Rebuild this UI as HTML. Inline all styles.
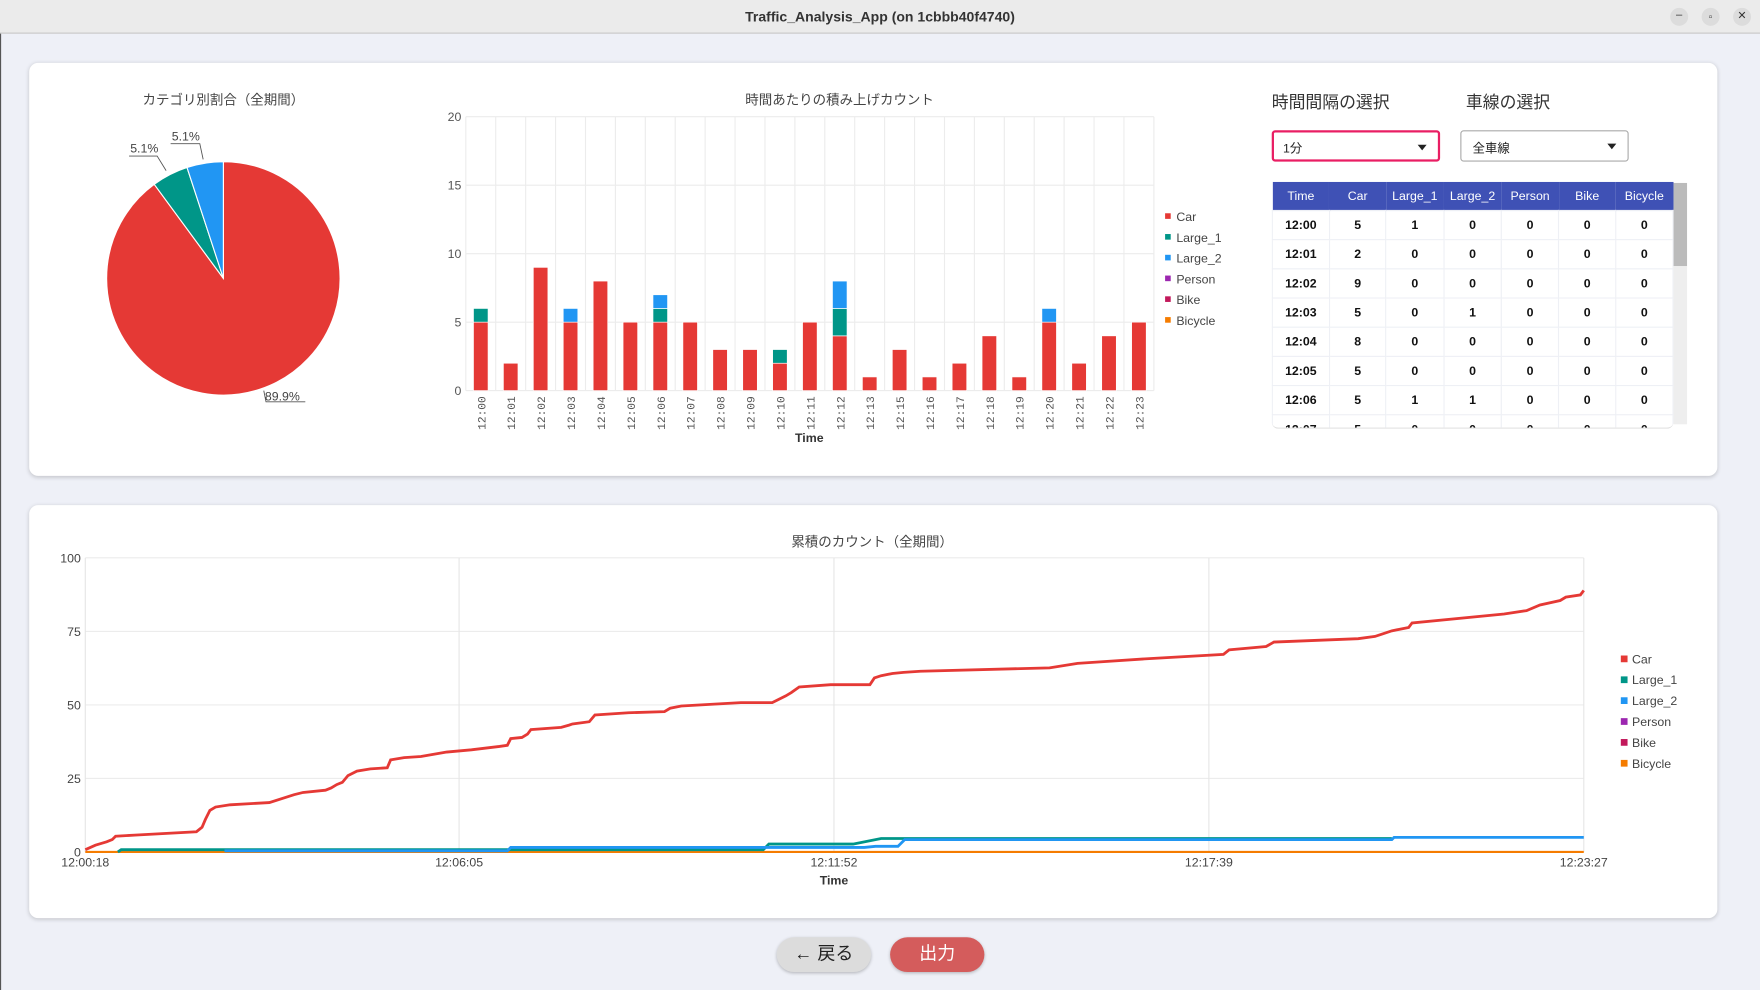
<!DOCTYPE html>
<html><head><meta charset="utf-8"><style>
html,body{margin:0;padding:0;width:1760px;height:990px;overflow:hidden;background:#eef0f7;}
#s{position:absolute;left:0;top:0;width:1568px;height:882px;transform:scale(1.122449);transform-origin:0 0;font-family:"Liberation Sans","Noto Sans CJK JP",sans-serif;}
.abs{position:absolute;}
.card{position:absolute;background:#fff;border-radius:8px;box-shadow:0 1px 4px rgba(0,0,0,.18);}
.title{position:absolute;font-size:12px;color:#444;transform:translateX(-50%);white-space:nowrap;}
table{border-collapse:collapse;font-size:11px;}
td,th{width:51px;height:25px;text-align:center;padding:0;}
th{background:#3f51b5;color:#fff;font-weight:normal;}
td{border:1px solid #eef0f5;color:#111;font-weight:600;}
.dd{position:absolute;height:28px;box-sizing:border-box;border-radius:3px;font-size:11px;color:#222;}
.dd span{position:absolute;left:10px;top:7px;}
.dd i{position:absolute;right:10px;top:11px;width:0;height:0;border-left:4px solid transparent;border-right:4px solid transparent;border-top:5px solid #222;}
.btn{position:absolute;border-radius:16px;text-align:center;box-shadow:0 1px 3px rgba(0,0,0,.25);font-size:16px;line-height:31px;}
</style></head><body><div id="s">
<div class="abs" style="left:0;top:0;width:1568px;height:29px;background:#ebebeb;border-bottom:1px solid #c8c8c8;"></div>
<div class="abs" style="left:0;top:8px;width:1568px;text-align:center;font-size:12.5px;font-weight:bold;color:#333;">Traffic_Analysis_App (on 1cbbb40f4740)</div>
<div class="abs" style="left:1488px;top:7px;width:16px;height:16px;border-radius:8px;background:#dcdcdc;font-size:10px;text-align:center;line-height:14px;color:#333">–</div>
<div class="abs" style="left:1516px;top:7px;width:16px;height:16px;border-radius:8px;background:#dcdcdc;font-size:9px;text-align:center;line-height:16px;color:#333">▫</div>
<div class="abs" style="left:1544px;top:7px;width:16px;height:16px;border-radius:8px;background:#dcdcdc;font-size:10px;text-align:center;line-height:16px;color:#333">✕</div>
<div class="abs" style="left:0;top:30px;width:1px;height:852px;background:#555;"></div>

<div class="card" style="left:26px;top:56px;width:1504px;height:368px;"></div>
<div class="card" style="left:26px;top:450px;width:1504px;height:368px;"></div>

<div class="title" style="left:199px;top:80px;">カテゴリ別割合（全期間）</div>
<div class="title" style="left:748px;top:80px;">時間あたりの積み上げカウント</div>
<div class="title" style="left:777px;top:474px;">累積のカウント（全期間）</div>

<svg class="abs" style="left:0;top:0" width="1568" height="882" font-family="Liberation Sans, sans-serif">
<g stroke="#fff" stroke-width="1">
<path d="M199,248 L199,144 A104,104 0 1 1 137.4,164.2 Z" fill="#e53935"/>
<path d="M199,248 L137.4,164.2 A104,104 0 0 1 166.6,149.2 Z" fill="#009688"/>
<path d="M199,248 L166.6,149.2 A104,104 0 0 1 199,144 Z" fill="#2196f3"/>
</g>
<g stroke="#555" fill="none" stroke-width="0.8">
<path d="M152,128 L178,128 L181,142"/><path d="M115,139 L140,139 L148,152"/><path d="M235,348 L237,358 L272,358"/>
</g>
<g font-size="11" fill="#444"><text x="153" y="125">5.1%</text><text x="116" y="136">5.1%</text><text x="236" y="357">89.9%</text></g>
<g id="bars"></g>
<g id="line"></g>
</svg>

<div class="abs" style="left:1133px;top:80px;font-size:15px;color:#333;">時間間隔の選択</div>
<div class="abs" style="left:1306px;top:80px;font-size:15px;color:#333;">車線の選択</div>
<div class="dd" style="left:1133px;top:116px;width:150px;border:2px solid #e91e63;"><span style="left:8px;top:6px">1分</span><i></i></div>
<div class="dd" style="left:1301px;top:116px;width:150px;border:1px solid #aaa;"><span>全車線</span><i></i></div>

<div class="abs" style="left:1133px;top:162px;width:358px;height:219px;overflow:hidden;border-radius:0 0 6px 6px;border-bottom:1px solid #ddd;">
<table>
<tr><th>Time</th><th>Car</th><th>Large_1</th><th>Large_2</th><th>Person</th><th>Bike</th><th>Bicycle</th></tr>
<tr><td>12:00</td><td>5</td><td>1</td><td>0</td><td>0</td><td>0</td><td>0</td></tr>
<tr><td>12:01</td><td>2</td><td>0</td><td>0</td><td>0</td><td>0</td><td>0</td></tr>
<tr><td>12:02</td><td>9</td><td>0</td><td>0</td><td>0</td><td>0</td><td>0</td></tr>
<tr><td>12:03</td><td>5</td><td>0</td><td>1</td><td>0</td><td>0</td><td>0</td></tr>
<tr><td>12:04</td><td>8</td><td>0</td><td>0</td><td>0</td><td>0</td><td>0</td></tr>
<tr><td>12:05</td><td>5</td><td>0</td><td>0</td><td>0</td><td>0</td><td>0</td></tr>
<tr><td>12:06</td><td>5</td><td>1</td><td>1</td><td>0</td><td>0</td><td>0</td></tr>
<tr><td>12:07</td><td>5</td><td>0</td><td>0</td><td>0</td><td>0</td><td>0</td></tr>
</table></div>
<div class="abs" style="left:1491px;top:163px;width:12px;height:215px;background:#eee;"></div>
<div class="abs" style="left:1491px;top:163px;width:12px;height:74px;background:#bbb;"></div>

<div class="btn" style="left:692px;top:835px;width:84px;height:31px;background:#dcdcdc;color:#222;">← 戻る</div>
<div class="btn" style="left:793px;top:835px;width:84px;height:31px;background:#d45c5c;color:#fff;">出力</div>

<script>
const NS="http://www.w3.org/2000/svg";
function el(p,t,a,tx){const e=document.createElementNS(NS,t);for(const k in a)e.setAttribute(k,a[k]);if(tx!==undefined)e.textContent=tx;p.appendChild(e);return e;}
const cols=["#e53935","#009688","#2196f3","#9c27b0","#c2185b","#f57c00"];
const names=["Car","Large_1","Large_2","Person","Bike","Bicycle"];
const b=document.getElementById("bars");
const L=415,R=1028,T=104,B=348,n=23,w=(R-L)/n,u=(B-T)/20;
const labs=[];for(let i=0;i<=23;i++){if(i!=14)labs.push("12:"+String(i).padStart(2,"0"));}
const car=[5,2,9,5,8,5,5,5,3,3,2,5,4,1,3,1,2,4,1,5,2,4,5];
const l1={0:1,6:1,10:1,12:2}, l2={3:1,6:1,12:2,19:1};
for(let v=0;v<=20;v+=5){const y=B-v*u;el(b,"line",{x1:L,x2:R,y1:y,y2:y,stroke:"#ececec"});el(b,"text",{x:411,y:y+4,"font-size":11,fill:"#555","text-anchor":"end"},v);}
for(let i=0;i<=n;i++){const x=L+i*w;el(b,"line",{x1:x,x2:x,y1:T,y2:B,stroke:"#ececec"});}
for(let i=0;i<n;i++){const cx=L+(i+.5)*w;let y=B;
 [[car[i],0],[l1[i]||0,1],[l2[i]||0,2]].forEach(([v,c])=>{if(!v)return;const h=v*u;el(b,"rect",{x:cx-6.5,y:y-h,width:13,height:h,fill:cols[c],stroke:"#fff","stroke-width":0.6});y-=h;});
 el(b,"text",{x:0,y:0,"font-size":10,fill:"#555","font-family":"Liberation Mono, monospace","text-anchor":"end",transform:`translate(${cx+4},353) rotate(-90)`},labs[i]);}
el(b,"text",{x:721,y:394,"font-size":11,"font-weight":"bold",fill:"#333","text-anchor":"middle"},"Time");
names.forEach((nm,i)=>{const y=193+i*18.5;el(b,"rect",{x:1038,y:y-3,width:5,height:5,fill:cols[i]});el(b,"text",{x:1048,y:y+4,"font-size":11,fill:"#444"},nm);el(document.getElementById("line"),"rect",{x:1444,y:584+i*18.6,width:6,height:6,fill:cols[i]});el(document.getElementById("line"),"text",{x:1454,y:591+i*18.6,"font-size":11,fill:"#444"},nm);});
const g=document.getElementById("line");
const LL=76,LR=1411,LT=497,LB=759;
[0,25,50,75,100].forEach(v=>{const y=LB-v*(LB-LT)/100;el(g,"line",{x1:LL,x2:LR,y1:y,y2:y,stroke:"#ececec"});el(g,"text",{x:72,y:y+4,"font-size":11,fill:"#444","text-anchor":"end"},v);});
[[76,"12:00:18"],[409,"12:06:05"],[743,"12:11:52"],[1077,"12:17:39"],[1411,"12:23:27"]].forEach(([x,t])=>{el(g,"line",{x1:x,x2:x,y1:LT,y2:LB,stroke:"#e6e6e6"});el(g,"text",{x:x,y:772,"font-size":11,fill:"#444","text-anchor":"middle"},t);});
el(g,"text",{x:743,y:788,"font-size":11,"font-weight":"bold",fill:"#333","text-anchor":"middle"},"Time");
const carP=[[76,757],[85,753],[95,750],[100,748],[103,745],[120,744],[175,741],[180,737],[183,730],[187,722],[192,719],[205,717],[240,715],[262,708],[270,706],[290,704],[295,702],[300,699],[305,697],[310,691],[318,687],[330,685],[345,684],[348,677],[360,675],[375,674],[398,670],[420,668],[445,665],[452,664],[455,658],[465,657],[470,654],[473,650],[500,648],[507,646],[510,645],[525,643],[530,637],[560,635],[592,634],[597,631],[607,629],[660,626],[688,626],[692,624],[700,620],[705,617],[712,612],[740,610],[775,610],[779,604],[785,602],[795,600],[805,599],[820,598],[935,595],[960,591],[975,590],[1020,587],[1090,583],[1095,579],[1128,576],[1135,572],[1210,569],[1225,567],[1240,562],[1255,559],[1258,555],[1340,547],[1360,544],[1372,539],[1390,535],[1395,532],[1408,530],[1411,526]];
const pts=a=>a.map(p=>p.join(",")).join(" ");
el(g,"polyline",{points:"76,759 1411,759",fill:"none",stroke:"#f57c00","stroke-width":2});
el(g,"polyline",{points:pts([[105,759],[108,757],[680,757],[685,752],[760,752],[785,747],[1240,747]]),fill:"none",stroke:"#009688","stroke-width":2.5});
el(g,"polyline",{points:pts([[200,758],[452,758],[455,755],[770,755],[780,754],[800,754],[806,748],[1240,748],[1242,746],[1411,746]]),fill:"none",stroke:"#2196f3","stroke-width":2.5});
el(g,"polyline",{points:pts(carP),fill:"none",stroke:"#e53935","stroke-width":2.5});
</script>
</div></body></html>
